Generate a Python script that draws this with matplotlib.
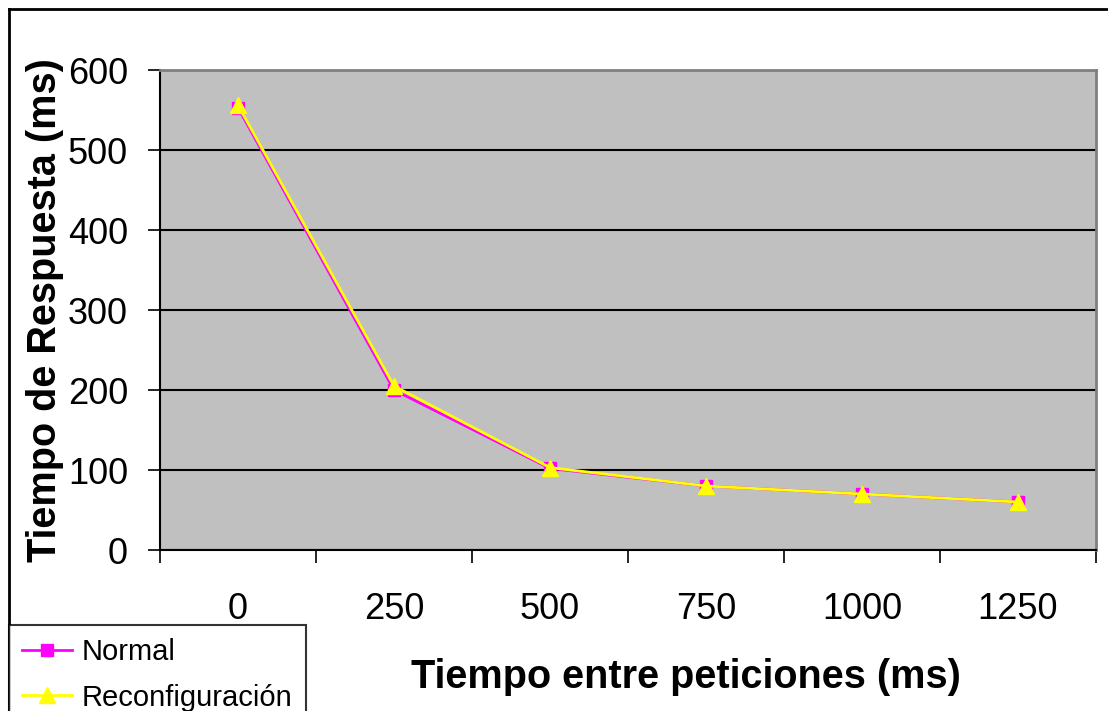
import matplotlib.pyplot as plt
from matplotlib.lines import Line2D

plt.rcParams['font.family'] = ['Liberation Sans', 'DejaVu Sans']

categorias = ['0', '250', '500', '750', '1000', '1250']
normal = [553, 200, 102, 80, 70, 60]
reconfig = [556, 205, 103, 80, 70, 60]

W, H = 1108, 711
fig = plt.figure(figsize=(W / 100, H / 100), dpi=100)
ax = fig.add_axes([160 / W, 1 - 550 / H, (1096 - 160) / W, (550 - 70) / H])
ax.set_facecolor('#C0C0C0')

x = list(range(len(categorias)))
ax.plot(x, normal, color='#FF00FF', lw=2, marker='s', ms=8,
        mfc='#FF00FF', mec='#FF00FF', label='Normal', zorder=3)
ax.plot(x, reconfig, color='#FFFF00', lw=2, marker='^', ms=11,
        mfc='#FFFF00', mec='#FFFF00', label='Reconfiguración', zorder=4)

ax.set_ylim(0, 600)
ax.set_yticks(range(0, 601, 100))
ax.yaxis.grid(True, color='black', lw=1.5)
ax.set_axisbelow(True)
ax.tick_params(axis='y', labelsize=26, length=9, width=1.2, pad=14)

ax.set_xlim(-0.5, 5.5)
ax.set_xticks(x)
ax.set_xticklabels(categorias)
ax.set_xticks([i - 0.5 for i in range(len(categorias) + 1)], minor=True)
ax.tick_params(axis='x', which='major', length=0, labelsize=26, pad=30)
ax.tick_params(axis='x', which='minor', length=9, width=1.2)

for s in ['top', 'right']:
    ax.spines[s].set_color('#808080')
    ax.spines[s].set_linewidth(2)
ax.spines['left'].set_linewidth(1.5)
ax.spines['bottom'].set_linewidth(1.5)

ax.set_ylabel('Tiempo de Respuesta (ms)', fontsize=28.5, fontweight='bold', va='center')
ax.yaxis.set_label_coords((45 - 160) / 936, 0.5)
ax.set_xlabel('Tiempo entre peticiones (ms)', fontsize=28.5, fontweight='bold', va='center')
ax.xaxis.set_label_coords((686 - 160) / 936, (550 - 677) / 480)

# marco exterior del grafico
fig.add_artist(Line2D([9 / W, 1], [1 - 9 / H, 1 - 9 / H], color='black', lw=2))
fig.add_artist(Line2D([9 / W, 9 / W], [0, 1 - 9 / H], color='black', lw=2))

leg = fig.legend(loc='upper left', bbox_to_anchor=(9 / W, 1 - 625 / H),
                 fontsize=21, frameon=True, fancybox=False, borderaxespad=0,
                 handlelength=1.7, handletextpad=0.35, borderpad=0.45, labelspacing=0.6)
leg.get_frame().set_edgecolor('black')
leg.get_frame().set_linewidth(1.5)

fig.savefig('out.png', dpi=100)
